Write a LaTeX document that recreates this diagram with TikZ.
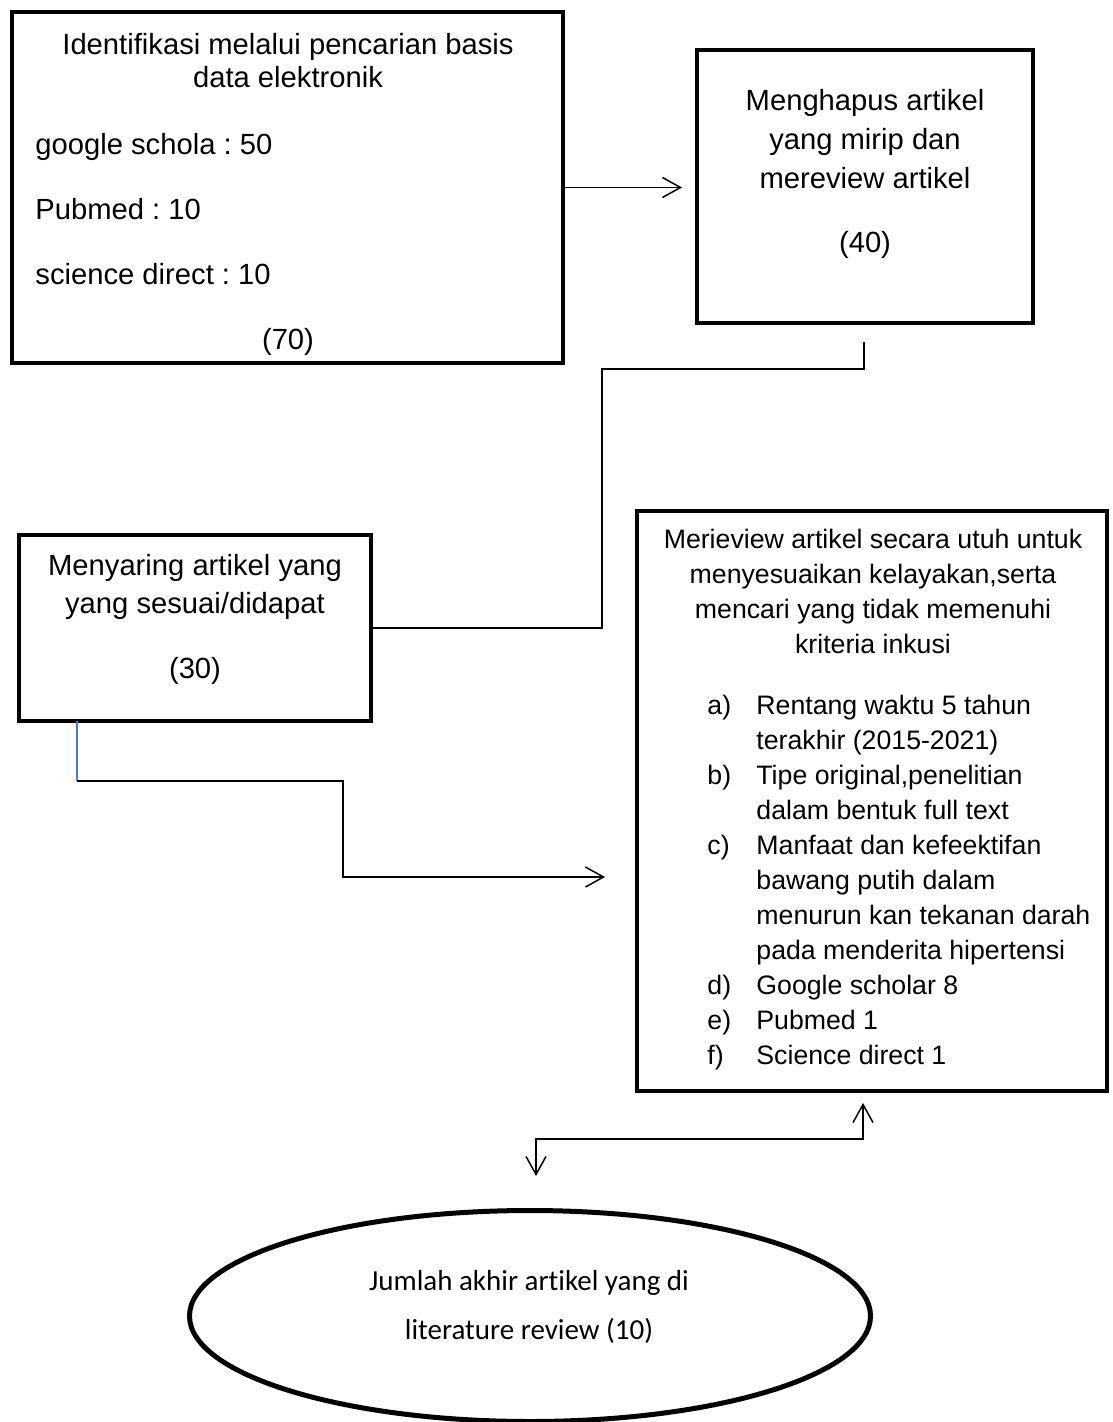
\documentclass[tikz,border=0pt]{standalone}
\usepackage{fontspec}
\setmainfont{Liberation Sans}
\newfontfamily\boxfont{Liberation Sans}
\newfontfamily\ovalfont[Ligatures=NoCommon]{Carlito}
\usetikzlibrary{shapes.geometric, arrows.meta}
\definecolor{linkblue}{RGB}{74,126,187}
\frenchspacing
\tikzset{box/.style={draw=black, line width=2.25pt, rectangle, inner sep=0pt, outer sep=0pt},
	txt/.style={inner sep=0pt, anchor=base, font=\boxfont\fontsize{14.6pt}{17pt}\selectfont},
	smalltxt/.style={inner sep=0pt, anchor=base, font=\boxfont\fontsize{13.35pt}{17.5pt}\selectfont},
	ovaltxt/.style={inner sep=0pt, anchor=base, font=\ovalfont\fontsize{14.5pt}{20pt}\selectfont},
	conn/.style={draw=black, line width=0.75pt},
	arr/.style={-{Straight Barb[length=9pt,width=10pt]}},
	dblarr/.style={{Straight Barb[length=9pt,width=10pt]}-{Straight Barb[length=9pt,width=10pt]}}}
\begin{document}
\begin{tikzpicture}[x=0.5pt, y=-0.5pt]
	\useasboundingbox (0,0) rectangle (1112,1422);
	%Kotak
	\node[box, minimum width=275.5pt, minimum height=175.5pt] (ident) at (287.5,187.5) {};
	\node[box, minimum width=168pt, minimum height=136.5pt] (hapus) at (865,186.5) {};
	\node[box, minimum width=176pt, minimum height=93pt] (saring) at (195,628) {};
	\node[box, minimum width=235pt, minimum height=290pt] (review) at (872,801) {};
	\node[draw=black, line width=2.5pt, ellipse, inner sep=0pt, minimum width=340.5pt, minimum height=105.5pt] (akhir) at (530,1316) {};
	%Identifikasi
	\node[txt] (ident1) at (288,55) {Identifikasi melalui pencarian basis};
	\node[txt] (ident2) at (288,88) {data elektronik};
	\node[txt, anchor=base west] (ident3) at (35,155) {google schola : 50};
	\node[txt, anchor=base west] (ident4) at (35,220) {Pubmed : 10};
	\node[txt, anchor=base west] (ident5) at (35,285) {science direct : 10};
	\node[txt] (ident6) at (288,350) {(70)};
	%Menghapus
	\node[txt] (hapus1) at (865,111) {Menghapus artikel};
	\node[txt] (hapus2) at (865,150) {yang mirip dan};
	\node[txt] (hapus3) at (865,189) {mereview artikel};
	\node[txt] (hapus4) at (865,253) {(40)};
	%Menyaring
	\node[txt] (saring1) at (195,575) {Menyaring artikel yang};
	\node[txt] (saring2) at (195,613) {yang sesuai/didapat};
	\node[txt] (saring3) at (195,678) {(30)};
	%Merieview
	\foreach \txt [count=\i] in {Merieview artikel secara utuh untuk, {menyesuaikan kelayakan,serta}, mencari yang tidak memenuhi, kriteria inkusi}
		\node[smalltxt] (rev\i) at (873,513+35*\i) {\txt};
	\foreach \lbl/\j in {a)/1, b)/3, c)/5, d)/9, e)/10, f)/11}
		\node[smalltxt, anchor=base west] (lbl\j) at (707,679+35*\j) {\lbl};
	\foreach \txt [count=\i] in {Rentang waktu 5 tahun, terakhir (2015-2021), {Tipe original,penelitian}, dalam bentuk full text, Manfaat dan kefeektifan, bawang putih dalam, menurun kan tekanan darah, pada menderita hipertensi, Google scholar 8, Pubmed 1, Science direct 1}
		\node[smalltxt, anchor=base west] (item\i) at (756,679+35*\i) {\txt};
	%Jumlah akhir
	\node[ovaltxt] (akhir1) at (529,1290) {Jumlah akhir artikel yang di};
	\node[ovaltxt] (akhir2) at (529,1339) {literature review (10)};
	%Panah
	\draw[conn, arr] (ident.east) -- ([xshift=-7.5pt]hapus.west |- ident.east);
	\coordinate (k1) at (602,500);
	\draw[conn] ([shift={(-0.5pt,-9.5pt)}]hapus.south) -- ++(0,27) -| (k1) |- (saring.east);
	\coordinate (b1) at (77,781);
	\coordinate (b2) at (343,877);
	\draw[conn, draw=linkblue] ([xshift=29pt]saring.south west) -- (b1);
	\draw[conn, arr] (b1) -| (b2) -- ([xshift=-16pt]review.west |- b2);
	\coordinate (c1) at (863,1139);
	\draw[conn, dblarr] ([shift={(-4.5pt,-6pt)}]review.south) -- (c1) -| ([shift={(3pt,16pt)}]akhir.north);
\end{tikzpicture}
\end{document}
